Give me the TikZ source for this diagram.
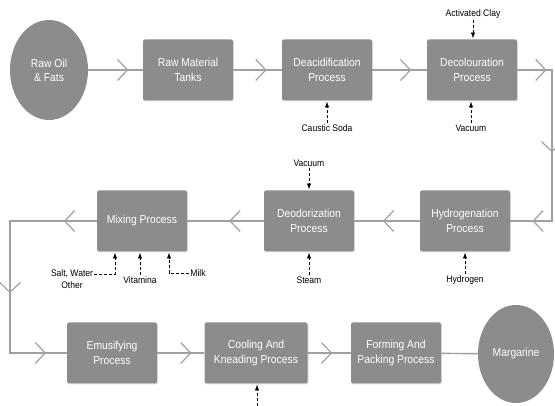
\documentclass[tikz,border=0pt]{standalone}
\usepackage{fontspec}
\setmainfont{Liberation Sans}
\newfontfamily\narrowfont{Liberation Sans}[FakeStretch=0.9]
\usetikzlibrary{arrows.meta, shapes.geometric, decorations.markings, shadows}
\definecolor{boxgray}{HTML}{8C8C8E}
\definecolor{linegray}{HTML}{A0A0A0}

\begin{document}
\begin{tikzpicture}[x=1pt, y=-1pt, >=Latex,
  proc/.style={fill=boxgray, rounded corners=2pt, text=white, align=center, minimum width=90pt, minimum height=61pt,
    font=\narrowfont\fontsize{11.5}{15.5}\selectfont, drop shadow={opacity=0.25, shadow xshift=1pt, shadow yshift=-1pt}},
  endpt/.style={ellipse, fill=boxgray, text=white, align=center, inner sep=0pt, font=\narrowfont\fontsize{11.5}{14}\selectfont},
  lbl/.style={font=\narrowfont\fontsize{9.5}{12}\selectfont, inner sep=1pt},
  flow/.style={draw=linegray, line width=1.4pt},
  chev/.style={postaction={decorate, decoration={markings, mark=at position #1 with
    {\draw[linegray, line width=1.2pt, line join=miter] (-10pt,10.5pt) -- (0pt,0pt) -- (-10pt,-10.5pt);}}}},
  feed/.style={->, densely dashed, line width=0.6pt, shorten >=1pt}]
\useasboundingbox (0,0) rectangle (555,406);
% process boxes, three rows
\node[endpt, minimum width=78pt, minimum height=100pt] (rawoil) at (49,70) {Raw Oil\\\& Fats};
\node[proc] (tanks) at (188,70) {Raw Material\\Tanks};
\node[proc] (deacid) at (327,70) {Deacidification\\Process};
\node[proc] (decol) at (472,70) {Decolouration\\Process};
\node[proc] (hydro) at (465,221) {Hydrogenation\\Process};
\node[proc] (deodor) at (309,221) {Deodorization\\Process};
\node[proc] (mixing) at (142,221) {Mixing Process};
\node[proc] (emuls) at (112,353) {Emusifying\\Process};
\node[proc, minimum width=103pt] (cooling) at (256,353) {Cooling And\\Kneading Process};
\node[proc] (forming) at (396,353) {Forming And\\Packing Process};
\node[endpt, minimum width=76pt, minimum height=98pt] (marg) at (516,354) {Margarine};
% main flow
\draw[flow, chev=0.72] (rawoil) -- (tanks);
\draw[flow, chev=0.67] (tanks) -- (deacid);
\draw[flow, chev=0.7] (deacid) -- (decol);
\coordinate (ne) at (552,70);
\coordinate (se) at (552,221);
\draw[flow] (decol) -- (ne) -- (se) -- (hydro);
\path[chev=0.82] (decol) -- (ne);
\path[chev=0.54] (ne) -- (se);
\path[chev=0.45] (se) -- (hydro);
\draw[flow, chev=0.55] (hydro) -- (deodor);
\draw[flow, chev=0.44] (deodor) -- (mixing);
\coordinate (nw) at (10,221);
\coordinate (sw) at (10,353);
\draw[flow] (mixing) -- (nw) -- (sw) -- (emuls);
\path[chev=0.37] (mixing) -- (nw);
\path[chev=0.54] (nw) -- (sw);
\path[chev=0.62] (sw) -- (emuls);
\draw[flow, chev=0.71] (emuls) -- (cooling);
\draw[flow, chev=0.55] (cooling) -- (forming);
\draw[flow] (forming) -- (marg);
% inputs
\node[lbl] (clay) at (473,14) {Activated Clay};
\node[lbl] (soda) at (327,128) {Caustic Soda};
\node[lbl] (vac1) at (471,128) {Vacuum};
\node[lbl] (vac2) at (309,163) {Vacuum};
\node[lbl] (steam) at (309,280) {Steam};
\node[lbl] (hgas) at (465,280) {Hydrogen};
\node[lbl, align=center] (salt) at (72,279) {Salt, Water\\Other};
\node[lbl] (vita) at (140,280) {Vitamina};
\node[lbl] (milk) at (198,273) {Milk};
\draw[feed] (clay) -- (clay |- decol.north);
\draw[feed] (soda) -- (soda |- deacid.south);
\draw[feed] (vac1) -- (vac1 |- decol.south);
\draw[feed] (vac2) -- (vac2 |- deodor.north);
\draw[feed] (steam) -- (steam |- deodor.south);
\draw[feed] (hgas) -- (hgas |- hydro.south);
\draw[feed] ([yshift=5pt]salt.east) -| ([xshift=-27pt]mixing.south);
\draw[feed] (vita) -- (vita |- mixing.south);
\draw[feed] (milk.west) -| ([xshift=27pt]mixing.south);
\coordinate (coolin) at (257,406);
\draw[feed] (coolin) -- (coolin |- cooling.south);
\end{tikzpicture}
\end{document}
